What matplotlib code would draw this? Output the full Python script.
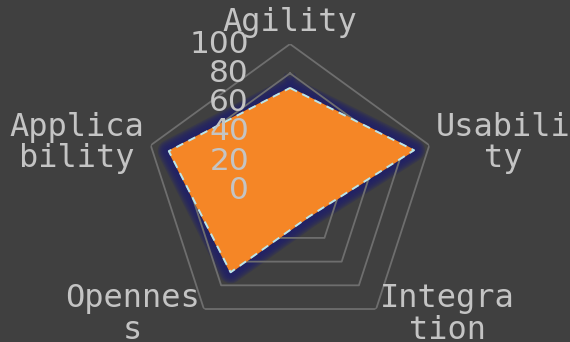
"""Radar chart - dark theme"""

import numpy as np
from matplotlib import pyplot as plt
from matplotlib.transforms import ScaledTranslation

categories = ['Agility', 'Usability', 'Integration', 'Openness', 'Applicability']
wrapped = ['Agility', 'Usabili\nty', 'Integra\ntion', 'Opennes\ns', 'Applica\nbility']
values = [70, 89, 22, 69, 87]
rings = [20, 40, 60, 80, 100]
ring_labels = ['0', '20', '40', '60', '80', '100']
ring_vals = [0, 20, 40, 60, 80, 100]

bg = '#404040'
txt = '#c4c4c4'

fig = plt.figure(figsize=(5.7, 3.42), dpi=100, facecolor=bg)
ax = fig.add_axes([0.2518, 0.0146, 0.514, 0.8567], projection='polar', facecolor=bg)
ax.set_theta_offset(np.pi / 2)
ax.set_theta_direction(-1)
ax.set_ylim(0, 100)
ax.grid(False)
ax.spines['polar'].set_visible(False)
ax.set_xticks([])
ax.set_yticks([])

angles = np.linspace(0, 2 * np.pi, len(categories), endpoint=False)
closed = np.append(angles, angles[0])

# pentagon grid
for r in rings:
    ax.plot(closed, [r] * len(closed), color='#6e6e6e', lw=1.3, zorder=2)

vals = np.append(values, values[0])

# glow round the shape
for lw in np.arange(16, 1, -2):
    ax.plot(closed, vals, color='#20206a', lw=lw, alpha=0.28,
            solid_joinstyle='round', zorder=1)

ax.fill(closed, vals, color='#f58626', zorder=3)
ax.plot(closed, vals, color='#b8e6ee', lw=1.4, ls=(0, (4, 3)), zorder=4)

# radial labels, left of the top spoke
off = ScaledTranslation(-0.41, 0, fig.dpi_scale_trans)
for v, lab in zip(ring_vals, ring_labels):
    ax.text(0, v, lab, color=txt, fontsize=22.5, ha='right', va='center',
            transform=ax.transData + off, zorder=5)

# category labels
align = [('center', 'bottom'), ('left', 'center'), ('left', 'center'),
         ('right', 'center'), ('right', 'center')]
for a, lab, (ha, va) in zip(angles, wrapped, align):
    r = 104 if va == 'bottom' else 104.5
    ax.text(a, r, lab, color=txt, fontsize=23, family='DejaVu Sans Mono',
            ha=ha, va=va, multialignment='center', linespacing=1.02)

fig.savefig('out.png', dpi=100, facecolor=bg)
